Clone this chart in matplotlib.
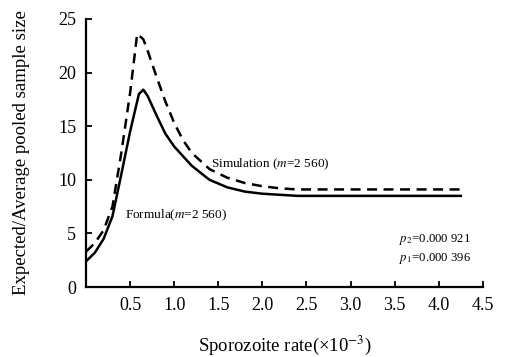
import matplotlib
matplotlib.use("Agg")
import matplotlib.pyplot as plt

plt.rcParams['font.family'] = ['Liberation Serif', 'DejaVu Serif']
plt.rcParams['mathtext.fontset'] = 'stix'

x_formula = [0, 0.1, 0.2, 0.3, 0.4, 0.5, 0.6, 0.65, 0.7, 0.8, 0.9, 1.0, 1.1, 1.2, 1.4, 1.6, 1.8, 2.0, 2.2, 2.4, 2.6, 3.0, 3.5, 4.0, 4.25]
y_formula = [2.4, 3.2, 4.5, 6.6, 10.5, 14.5, 18.0, 18.4, 17.8, 16.0, 14.3, 13.1, 12.2, 11.3, 10.0, 9.3, 8.9, 8.7, 8.6, 8.5, 8.5, 8.5, 8.5, 8.5, 8.5]
x_sim = [0, 0.1, 0.2, 0.3, 0.4, 0.5, 0.58, 0.65, 0.7, 0.8, 0.9, 1.0, 1.1, 1.2, 1.4, 1.6, 1.8, 2.0, 2.2, 2.4, 2.6, 3.0, 3.5, 4.0, 4.25]
y_sim = [3.3, 4.1, 5.3, 7.5, 12.5, 18.1, 23.6, 23.1, 22.0, 19.6, 17.3, 15.3, 13.7, 12.5, 11.0, 10.2, 9.7, 9.4, 9.2, 9.1, 9.1, 9.1, 9.1, 9.1, 9.1]
x_ticks = [0.5, 1.0, 1.5, 2.0, 2.5, 3.0, 3.5, 4.0, 4.5]
x_tick_labels = ["0.5", "1.0", "1.5", "2.0", "2.5", "3.0", "3.5", "4.0", "4.5"]
y_ticks = [0, 5, 10, 15, 20, 25]

fig = plt.figure(figsize=(5.12, 3.57), dpi=100)
ax = fig.add_axes([0.168, 0.196, 0.775, 0.751])
ax.plot(x_formula, y_formula, color='black', lw=1.8, solid_joinstyle='round')
ax.plot(x_sim, y_sim, color='black', lw=1.8, linestyle=(0, (4, 2.6)))
ax.set_xlim(0, 4.5)
ax.set_ylim(0, 25)
ax.set_xticks(x_ticks)
ax.set_xticklabels(x_tick_labels)
ax.set_yticks(y_ticks)
for s in ['top', 'right']:
    ax.spines[s].set_visible(False)
for s in ['left', 'bottom']:
    ax.spines[s].set_linewidth(1.6)
ax.tick_params(direction='in', length=4, width=1.3, labelsize=13, pad=7)
ax.set_ylabel("Expected/Average pooled sample size", fontsize=13.5, labelpad=20)
ax.set_xlabel("Sporozoite rate(×10$^{-3}$)", fontsize=13.5, labelpad=14)

ax.text(1.42, 11.4, r"Simulation ($m$=2 560)", fontsize=9.5, va='center', ha='left')
ax.text(0.44, 6.7, r"Formula($m$=2 560)", fontsize=9.5, va='center', ha='left')
ax.text(3.55, 4.4, r"$p_2$=0.000 921", fontsize=9.2, va='center', ha='left')
ax.text(3.55, 2.7, r"$p_1$=0.000 396", fontsize=9.2, va='center', ha='left')

fig.savefig("out.png", dpi=100)
